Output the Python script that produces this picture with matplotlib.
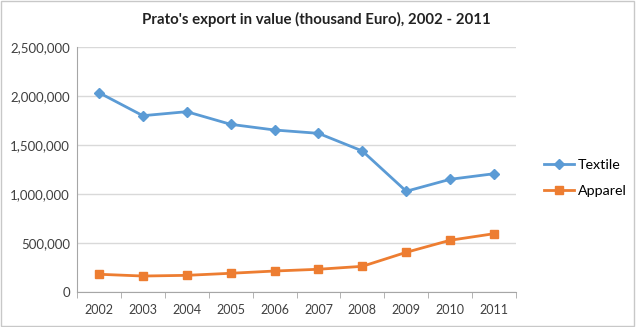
import numpy as np
import matplotlib
matplotlib.use("Agg")
import matplotlib.pyplot as plt
import matplotlib.ticker as ticker
from matplotlib.patches import Rectangle

# data (thousand Euro)
years = ["2002", "2003", "2004", "2005", "2006", "2007", "2008", "2009", "2010", "2011"]
textile = [2034000, 1799000, 1840000, 1711000, 1653000, 1619000, 1439000, 1028000, 1150000, 1207000]
apparel = [181000, 163000, 170000, 191000, 214000, 232000, 262000, 405000, 528000, 595000]

plt.rcParams["font.family"] = ["Lato", "DejaVu Sans"]

fig = plt.figure(figsize=(6.39, 3.27), dpi=100)
ax = fig.add_axes([77/639, 1 - 292/327, (516-77)/639, (292-47)/327])

x = np.arange(len(years))
ax.plot(x, textile, color="#5B9BD5", lw=2, marker="D", ms=5, label="Textile")
ax.plot(x, apparel, color="#ED7D31", lw=2, marker="s", ms=6, label="Apparel")

ax.set_xlim(-0.5, len(years) - 0.5)
ax.set_ylim(0, 2500000)
ax.set_yticks(np.arange(0, 2500001, 500000))
ax.yaxis.set_major_formatter(ticker.StrMethodFormatter("{x:,.0f}"))
ax.set_xticks(x)
ax.set_xticklabels(years)
ax.set_xticks(np.arange(-0.5, len(years), 1), minor=True)
ax.tick_params(axis="x", which="major", length=0, pad=9, labelsize=9, colors="#404040")
ax.tick_params(axis="x", which="minor", length=4, color="#A6A6A6")
ax.tick_params(axis="y", length=0, pad=5, labelsize=9.5, colors="#404040")

ax.grid(axis="y", color="#D9D9D9", lw=1)
ax.set_axisbelow(True)
for s in ["top", "right"]:
    ax.spines[s].set_visible(False)
ax.spines["left"].set_color("#A6A6A6")
ax.spines["bottom"].set_color("#A6A6A6")

fig.text(316/639, 1 - 19/327, "Prato's export in value (thousand Euro), 2002 - 2011",
         ha="center", va="center", fontsize=10.8, fontweight="bold", color="#222222")

fig.legend(loc="center left", bbox_to_anchor=(531/639, 1 - 178/327), frameon=False,
           fontsize=10.3, handlelength=2.1, labelspacing=1.0, handletextpad=0.3)

fig.patches.append(Rectangle((0.002, 0.004), 0.99, 0.993, transform=fig.transFigure,
                             fill=False, edgecolor="#C8C8C8", lw=1))

plt.savefig("out.png", dpi=100)
plt.close()
